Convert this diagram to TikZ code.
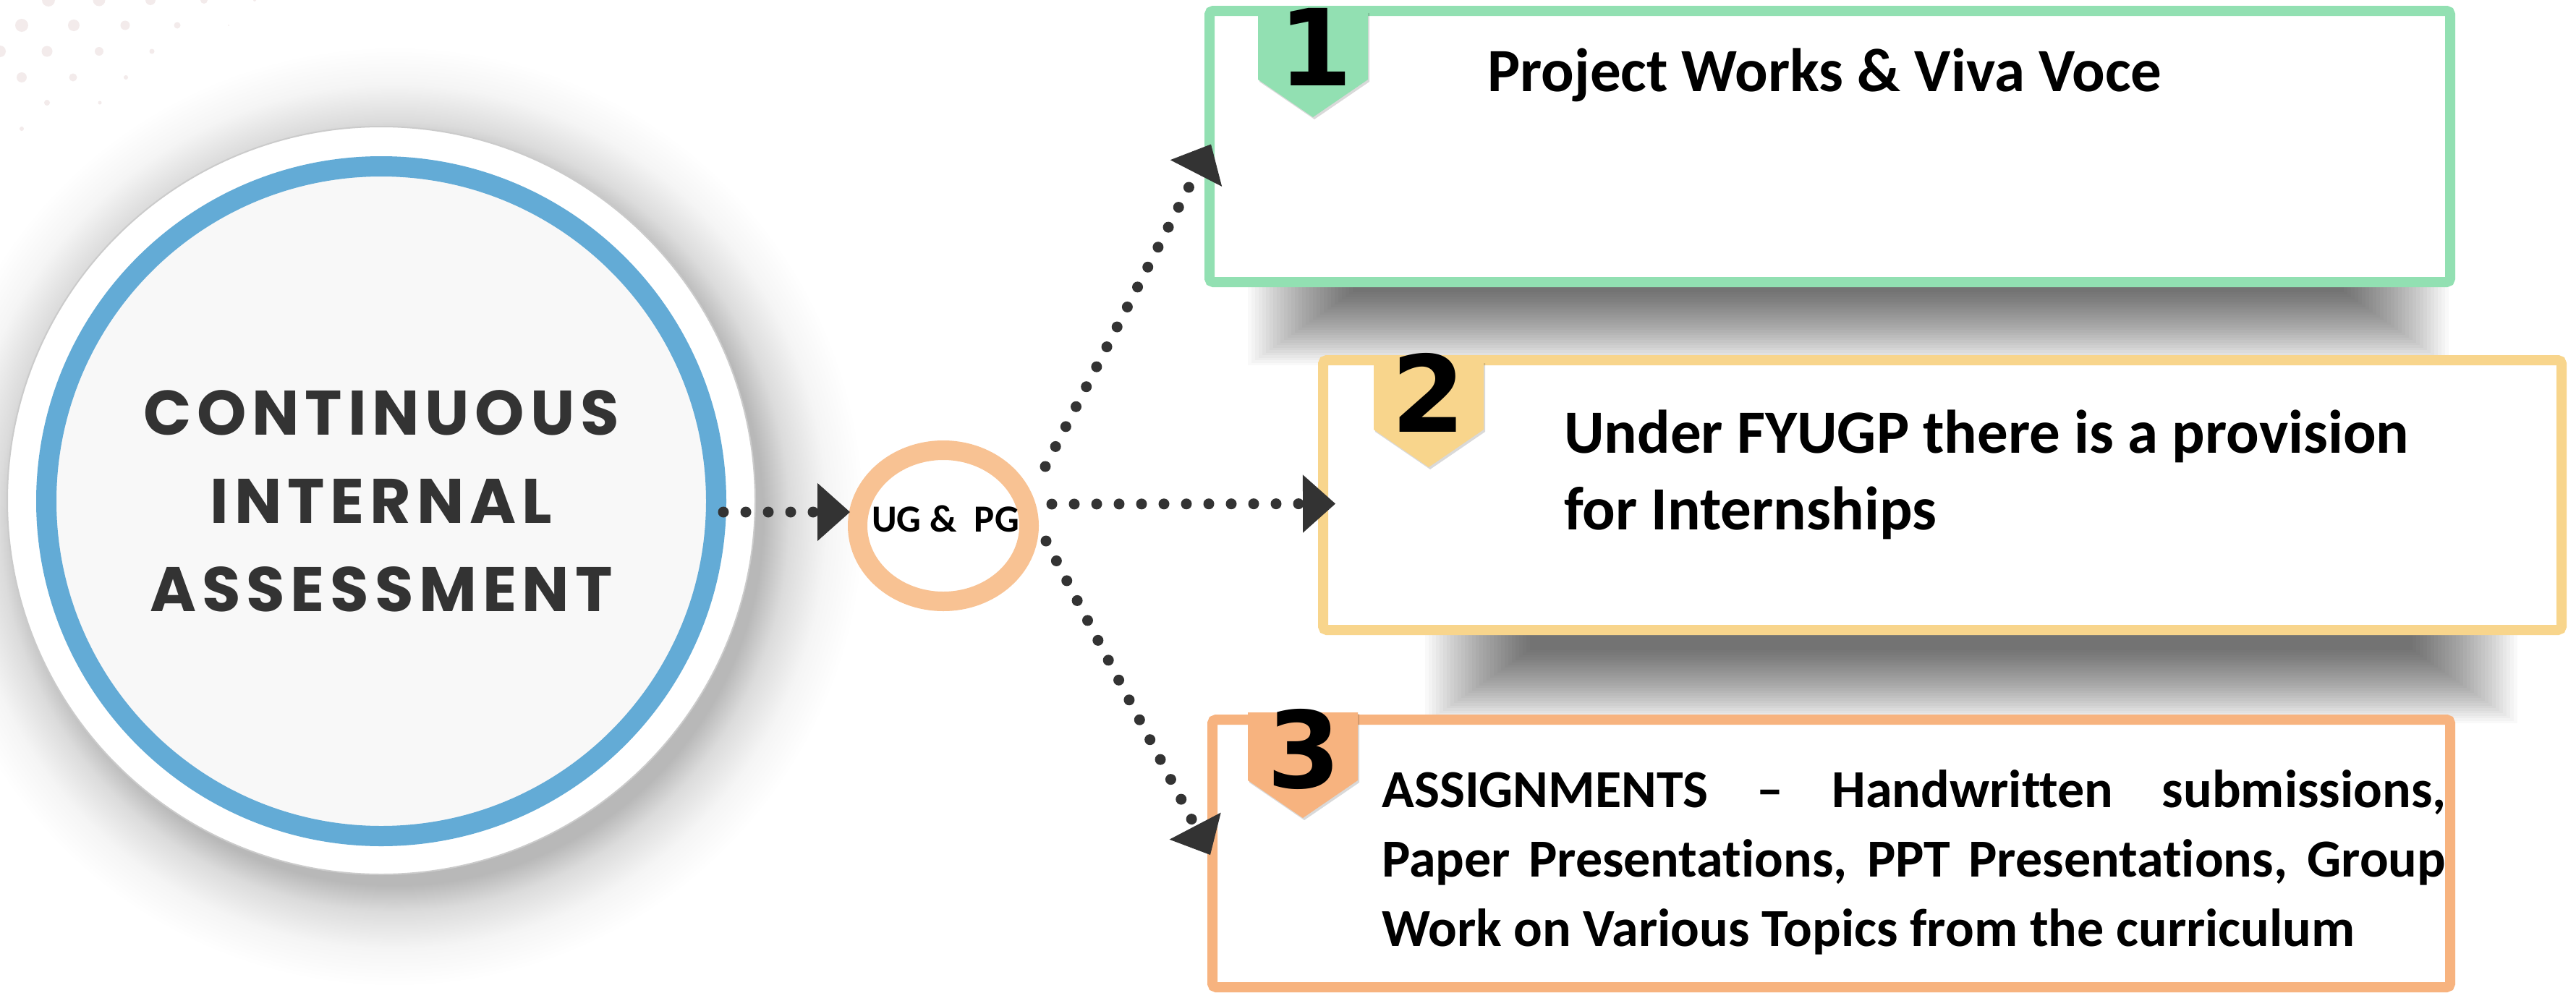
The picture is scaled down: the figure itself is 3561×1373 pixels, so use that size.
\documentclass[tikz,border=0pt]{standalone}
\usepackage{fontspec}
\usetikzlibrary{shapes.geometric,arrows.meta,calc}
\newfontfamily\ciafont{Poppins}[LetterSpace=9]
\newfontfamily\calfont{Carlito}[Ligatures={NoCommon}]
\newfontfamily\numfont{DejaVu Sans}
\definecolor{blueR}{HTML}{63ABD6}
\definecolor{discin}{HTML}{F8F8F8}
\definecolor{discedge}{HTML}{CBCBCB}
\definecolor{txt}{HTML}{333333}
\definecolor{peach}{HTML}{F8C293}
\definecolor{grn}{HTML}{92E0B2}
\definecolor{gold}{HTML}{F8D58C}
\definecolor{orng}{HTML}{F7B37F}
\definecolor{dotc}{HTML}{333333}
\definecolor{dotpink}{HTML}{F3EBEB}
\pgfdeclareradialshading{halo}{\pgfpointorigin}{color(0bp)=(black!28); color(19.6bp)=(black!28); color(21bp)=(black!14); color(23bp)=(black!4); color(25bp)=(white); color(50bp)=(white)}
\begin{document}
\begin{tikzpicture}[x=1pt,y=-1pt,
  conn/.style={draw=dotc, line width=15pt, line cap=round, dash pattern=on 0pt off 31pt,
    -{Triangle[length=45pt,width=80pt,line width=1pt]}},
  box/.style={draw=#1, line width=14pt, fill=white, rounded corners=5pt, inner sep=0pt},
  numtxt/.style={anchor=base, inner sep=0pt, text=black, font=\numfont\bfseries\fontsize{147}{150}\selectfont},
  boxtxt/.style={anchor=base west, inner sep=0pt, text=black, font=\calfont\bfseries\fontsize{85}{106}\selectfont}]
\useasboundingbox (0,0) rectangle (3561,1373);
\fill[white] (0,0) rectangle (3561,1373);
% halo around the disc
\shade[shading=halo] (545,714) circle (650);
% decorative dots
\foreach \x/\y/\r in {67/0/9,137/0/8.5,208/0/7,282/0/5,352/0/2,
  30/35/9,102/35/8,173/35/6.5,245/35/4.5,316/35/1,
  0/71/8,65/71/7.5,137/71/6,210/71/3.5,
  30/107/7,101/107/5.5,174/107/3,
  65/142/4,138/142/2.5,30/178/3}
  \fill[dotpink] (\x,\y) circle (\r);
% main disc
\fill[white] (527,692) circle (517);
\draw[discedge, line width=2pt] (527,692) circle (517);
\node[circle, draw=blueR, line width=28pt, fill=discin, minimum size=926pt, inner sep=0pt,
  align=center, text=txt, font=\ciafont\bfseries\fontsize{87}{122}\selectfont] (cia) at (527,693)
  {CONTINUOUS\\INTERNAL\\ASSESSMENT};
% soft box shadows
\foreach \i in {0,...,29}
  \fill[black, opacity=0.022] ({1725+\i*5},300) rectangle ({3385-\i*5},{505-\i*3.5});
\foreach \i in {0,...,29}
  \fill[black, opacity=0.022] ({1970+\i*5},780) rectangle ({3480-\i*5},{1000-\i*3.5});
% boxes
\node[box=grn, minimum width=1715pt, minimum height=375pt] (b1) at (2529.5,202.5) {};
\node[box=gold, minimum width=1712pt, minimum height=373pt] (b2) at (2685,684.5) {};
\node[box=orng, minimum width=1711pt, minimum height=370pt] (b3) at (2531.5,1180) {};
% badges
\foreach \cx/\ty/\col in {1815/16/grn,1975/500/gold,1801/985/orng} {
  \fill[black, opacity=0.15] ({\cx-74},{\ty+2}) -- ({\cx+78},{\ty+2}) -- ({\cx+78},{\ty+97}) -- ({\cx+2},{\ty+149}) -- ({\cx-74},{\ty+97}) -- cycle;
  \fill[\col] ({\cx-76},\ty) -- ({\cx+76},\ty) -- ({\cx+76},{\ty+94}) -- (\cx,{\ty+146}) -- ({\cx-76},{\ty+94}) -- cycle;
}
\node[numtxt] (n1) at (1819,118) {1};
\node[numtxt] (n2) at (1975,597) {2};
\node[numtxt] (n3) at (1803,1089) {3};
% box texts
\node[boxtxt] (t1) at (2056,126) {Project Works \& Viva Voce};
\node[boxtxt] (t2) at (2162,626) {\parbox[t]{1350pt}{\raggedright Under FYUGP there is a provision\\for Internships}};
\node[boxtxt, font=\calfont\bfseries\fontsize{74}{96}\selectfont] (t3) at (1910,1116)
  {\parbox[t]{1471pt}{\hyphenpenalty=10000 ASSIGNMENTS – Handwritten submissions,\linebreak Paper Presentations, PPT Presentations, Group\linebreak Work on Various Topics from the curriculum}};
% UG & PG
\node[ellipse, draw=peach, line width=27pt, minimum width=237pt, minimum height=209pt, inner sep=0pt] (ug) at (1304,727) {};
\node[inner sep=0pt, text=black, font=\calfont\bfseries\fontsize{53}{60}\selectfont] (ugt) at (1307,717) {UG \&~ PG};
% connectors
\draw[conn] ($(cia.east)+(-4,15)$) -- ($(ug.west)+(3,-19)$);
\draw[conn] ($(ug)+(141,-82)$) -- ($(b1.west)+(9,-3)$);
\draw[conn] ($(ug)+(150,-30)$) -- ($(b2.west)+(24,12)$);
\draw[conn] ($(ug)+(142,21)$) -- ($(b3.west)+(4,2)$);
\end{tikzpicture}
\end{document}
